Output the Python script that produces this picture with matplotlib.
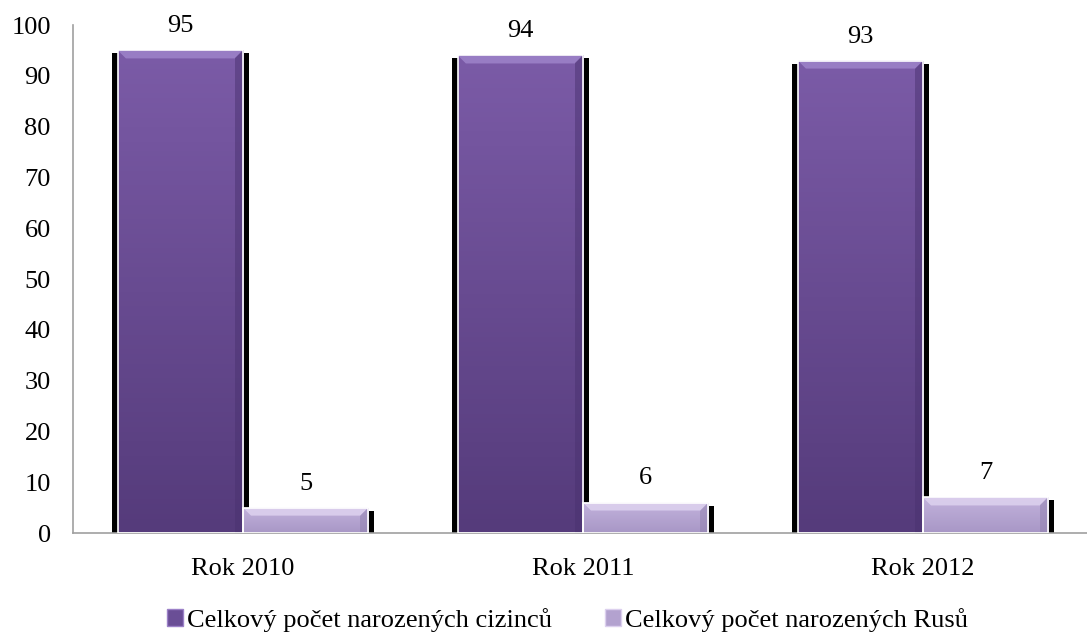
import matplotlib.pyplot as plt
import numpy as np
from matplotlib.patches import Rectangle, Polygon

# Data
categories = ["Rok 2010", "Rok 2011", "Rok 2012"]
foreigners = [95, 94, 93]
russians = [5, 6, 7]
series_names = ["Celkový počet narozených cizinců", "Celkový počet narozených Rusů"]

plt.rcParams["font.family"] = ["Liberation Serif", "DejaVu Serif"]
plt.rcParams["font.size"] = 19

W, H = 1087, 632
fig = plt.figure(figsize=(W / 100, H / 100), dpi=100)
ax = fig.add_axes([73 / W, 99 / H, 1020 / W, 508 / H])

x = np.arange(len(categories))
bw = 0.368
px_x = 1 / 340.0      # data units per pixel in x
px_y = 100 / 508.0    # data units per pixel in y

ax.set_xlim(-0.5, 2.5)
ax.set_ylim(0, 100)


def fancy_bars(xpos, values, top_col, bot_col, bevel_col, side_col):
    bars = ax.bar(xpos, values, bw, color="none", edgecolor="none", zorder=3)
    for b in bars:
        x0, w, h = b.get_x(), b.get_width(), b.get_height()
        # black shadow peeking out on both sides
        ax.add_patch(Rectangle((x0 - 6 * px_x, 0), w + 12 * px_x, h - 3 * px_y,
                               facecolor="black", edgecolor="none", zorder=1))
    for b in bars:
        x0, w, h = b.get_x(), b.get_width(), b.get_height()
        grad = np.linspace(0, 1, 100).reshape(-1, 1)
        cmap = plt.matplotlib.colors.LinearSegmentedColormap.from_list("g", [bot_col, top_col])
        im = ax.imshow(grad, cmap=cmap, origin="lower", aspect="auto",
                       extent=[x0, x0 + w, 0, h], zorder=2)
        rect = Rectangle((x0, 0), w, h, facecolor="none", edgecolor="white",
                         linewidth=1.2, zorder=4)
        ax.add_patch(rect)
        im.set_clip_path(rect)
        d = min(8 * px_y, h * 0.4)
        dx = 8 * px_x
        ax.add_patch(Polygon([[x0, h], [x0 + w, h], [x0 + w - dx, h - d], [x0 + dx, h - d]],
                             closed=True, facecolor=bevel_col, edgecolor="none",
                             alpha=0.9, zorder=3))
        ax.add_patch(Polygon([[x0 + w, h], [x0 + w, 0], [x0 + w - dx, 0], [x0 + w - dx, h - d]],
                             closed=True, facecolor=side_col, edgecolor="none",
                             alpha=0.5, zorder=3))
        ax.annotate(f"{int(h)}", (x0 + w / 2, h), xytext=(0, 13),
                    textcoords="offset points", ha="center", va="baseline", zorder=5)


fancy_bars(x - bw / 2, foreigners, "#7B5BA7", "#553B7B", "#9C81C8", "#4A3270")
fancy_bars(x + bw / 2, russians, "#C2B2DC", "#A897C6", "#DCD0EE", "#8E7EAC")

ax.set_xticks(x)
ax.set_xticklabels(categories)
ax.set_yticks(range(0, 101, 10))
ax.tick_params(axis="both", length=0)
ax.tick_params(axis="y", pad=16)
ax.tick_params(axis="x", pad=18)
for s in ["top", "right"]:
    ax.spines[s].set_visible(False)
for s in ["left", "bottom"]:
    ax.spines[s].set_color("#A0A0A0")
    ax.spines[s].set_linewidth(1.2)

handles = [Rectangle((0, 0), 1, 1, facecolor="#6A4E96", edgecolor="#9C81C8"),
           Rectangle((0, 0), 1, 1, facecolor="#B3A2CF", edgecolor="#DCD0EE")]
fig.legend(handles, series_names, loc="center", bbox_to_anchor=(0.522, 0.019),
           ncol=2, frameon=False, handlelength=0.6, handleheight=0.6,
           handletextpad=0.15, columnspacing=2.0)

fig.savefig("out.png", dpi=100)
